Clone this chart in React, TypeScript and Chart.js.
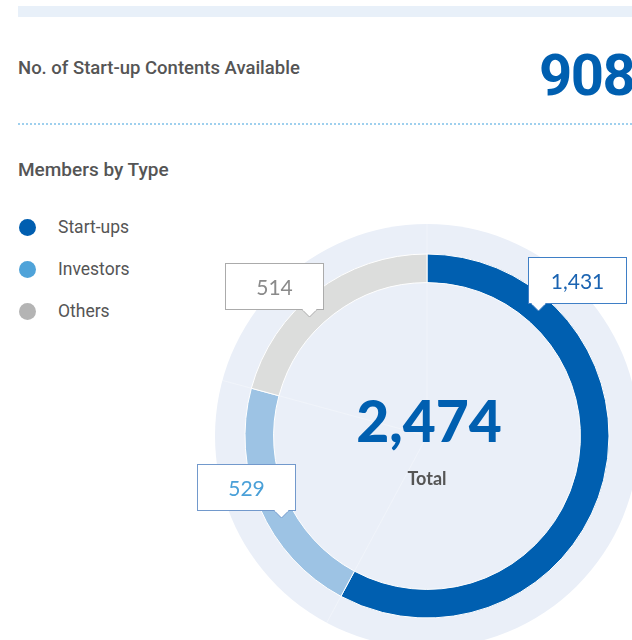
import React, { useEffect, useRef } from "react";
import { Chart, registerables } from "chart.js";

Chart.register(...registerables);

// ---- data ----
const categories = ["Start-ups", "Investors", "Others"];
const members = [1431, 529, 514];
const contentsAvailable = 908;

// ---- styles ----
const ringColors = ["#005fb0", "#9dc3e4", "#dcdddc"];
const legendColors = ["#005eb0", "#4fa3d9", "#b4b4b4"];
const labelTextColors = ["#1a63b1", "#4aa0d8", "#8a8a8a"];
const labelBorderColors = ["#3f7fc6", "#7299cc", "#ababab"];
const labelFractions = [0.2, 0.42, 0.4];
const PALE = "#eaeff8";
const TEXT = "#555555";

const fmt = (v: number) => v.toLocaleString("en-US");

const decorPlugin = {
  id: "decor",
  beforeDatasetsDraw(chart: any) {
    const arcs = chart.getDatasetMeta(0).data;
    if (!arcs.length) return;
    const p = arcs[0].getProps(["x", "y", "outerRadius"], true);
    const R = p.outerRadius * (212 / 182);
    const ctx = chart.ctx;
    ctx.save();
    ctx.fillStyle = PALE;
    ctx.beginPath();
    ctx.arc(p.x, p.y, R, 0, Math.PI * 2);
    ctx.fill();
    ctx.strokeStyle = "rgba(255,255,255,0.3)";
    ctx.lineWidth = 1;
    ctx.beginPath();
    arcs.forEach((arc: any) => {
      const { startAngle } = arc.getProps(["startAngle"], true);
      ctx.moveTo(p.x, p.y);
      ctx.lineTo(p.x + R * Math.cos(startAngle), p.y + R * Math.sin(startAngle));
    });
    ctx.stroke();
    ctx.restore();
  },
  afterDatasetsDraw(chart: any) {
    const arcs = chart.getDatasetMeta(0).data;
    if (!arcs.length) return;
    const ctx = chart.ctx;
    const data = chart.data.datasets[0].data as number[];
    const c = arcs[0].getProps(["x", "y"], true);
    const total = data.reduce((a, b) => a + b, 0);

    ctx.save();
    // centre texts
    ctx.textAlign = "center";
    ctx.textBaseline = "alphabetic";
    ctx.fillStyle = "#005fb0";
    ctx.font = "900 57px Lato";
    ctx.fillText(fmt(total), c.x + 2, c.y + 6);
    ctx.fillStyle = TEXT;
    ctx.font = "bold 18px Lato";
    ctx.fillText("Total", c.x, c.y + 49);

    // value callouts
    const W = 99, H = 47;
    arcs.forEach((arc: any, i: number) => {
      const pr = arc.getProps(["x", "y", "startAngle", "endAngle", "innerRadius", "outerRadius"], true);
      const a = pr.startAngle + labelFractions[i] * (pr.endAngle - pr.startAngle);
      const r = (pr.innerRadius + pr.outerRadius) / 2;
      const tx = Math.round(pr.x + r * Math.cos(a));
      const ty = Math.round(pr.y + r * Math.sin(a));
      const bottom = ty - 7;
      const left = tx > pr.x ? tx - 10 : tx - 84;
      const top = bottom - H;
      ctx.fillStyle = "#ffffff";
      ctx.fillRect(left, top, W, H);
      ctx.strokeStyle = labelBorderColors[i];
      ctx.lineWidth = 1;
      ctx.strokeRect(left + 0.5, top + 0.5, W - 1, H - 1);
      // pointer
      ctx.beginPath();
      ctx.moveTo(tx - 7, bottom - 0.5);
      ctx.lineTo(tx + 0.5, ty);
      ctx.lineTo(tx + 8, bottom - 0.5);
      ctx.closePath();
      ctx.fillStyle = "#ffffff";
      ctx.fill();
      ctx.beginPath();
      ctx.moveTo(tx - 7, bottom - 0.5);
      ctx.lineTo(tx + 0.5, ty);
      ctx.lineTo(tx + 8, bottom - 0.5);
      ctx.stroke();
      ctx.fillStyle = "#ffffff";
      ctx.fillRect(tx - 6, bottom - 1.5, 13, 2);
      // text
      ctx.fillStyle = labelTextColors[i];
      ctx.font = "21px Lato";
      ctx.textAlign = "center";
      ctx.textBaseline = "alphabetic";
      ctx.fillText(fmt(data[i]), left + W / 2, top + H / 2 + 8);
    });
    ctx.restore();
  },
};

export default function App() {
  const ref = useRef<HTMLCanvasElement>(null);

  useEffect(() => {
    if (!ref.current) return;
    const chart = new Chart(ref.current, {
      type: "doughnut",
      data: {
        labels: categories,
        datasets: [
          {
            data: members,
            backgroundColor: ringColors,
            borderColor: "#ffffff",
            borderWidth: 1,
            hoverOffset: 0,
          },
        ],
      },
      options: {
        responsive: false,
        animation: false,
        radius: 182,
        cutout: 153,
        rotation: 0,
        layout: { padding: { left: 75, right: 31, top: 30, bottom: 30 } },
        plugins: {
          legend: { display: false },
          tooltip: { enabled: false },
        },
        events: [],
      } as any,
      plugins: [decorPlugin],
    });
    return () => chart.destroy();
  }, []);

  const roboto = "Roboto, 'Noto Sans', sans-serif";

  return (
    <div
      style={{
        position: "absolute",
        left: 0,
        top: 0,
        width: 632,
        height: 640,
        overflow: "hidden",
        background: "#ffffff",
        fontFamily: roboto,
      }}
    >
      <div style={{ position: "absolute", left: 18, top: 6, width: 614, height: 11, background: "#e8f0f9" }} />
      <div
        style={{
          position: "absolute",
          left: 18,
          top: 58.5,
          fontSize: 18.5,
          lineHeight: "18.5px",
          fontWeight: 500,
          color: TEXT,
          whiteSpace: "nowrap",
        }}
      >
        No. of Start-up Contents Available
      </div>
      <div
        style={{
          position: "absolute",
          left: 539,
          top: 46,
          fontSize: 58,
          lineHeight: "58px",
          fontWeight: 700,
          color: "#005fb0",
          whiteSpace: "nowrap",
          letterSpacing: -1.5,
        }}
      >
        {contentsAvailable}
      </div>
      <div
        style={{
          position: "absolute",
          left: 18,
          top: 123,
          width: 614,
          height: 2,
          backgroundImage: "repeating-linear-gradient(to right, #9fd0ee 0px, #9fd0ee 2px, transparent 2px, transparent 4px)",
        }}
      />
      <div
        style={{
          position: "absolute",
          left: 18,
          top: 160,
          fontSize: 19,
          lineHeight: "19px",
          fontWeight: 500,
          color: TEXT,
          whiteSpace: "nowrap",
        }}
      >
        Members by Type
      </div>
      {categories.map((c, i) => (
        <React.Fragment key={c}>
          <div
            style={{
              position: "absolute",
              left: 19,
              top: 218.5 + i * 42.3,
              width: 17,
              height: 17,
              borderRadius: "50%",
              background: legendColors[i],
            }}
          />
          <div
            style={{
              position: "absolute",
              left: 58,
              top: 218.5 + i * 42.3,
              fontSize: 17.5,
              lineHeight: "17.5px",
              color: TEXT,
              whiteSpace: "nowrap",
            }}
          >
            {c}
          </div>
        </React.Fragment>
      ))}
      <canvas
        ref={ref}
        width={470}
        height={424}
        style={{ position: "absolute", left: 170, top: 224, width: 470, height: 424 }}
      />
    </div>
  );
}
